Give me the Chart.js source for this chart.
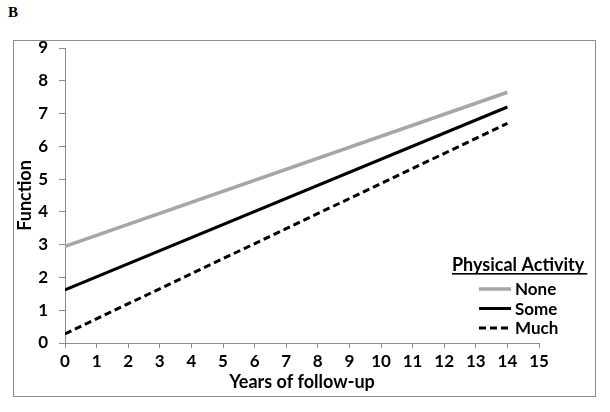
<!DOCTYPE html>
<html>
<head>
<meta charset="utf-8">
<script src="https://cdn.jsdelivr.net/npm/chart.js@4.4.0/dist/chart.umd.min.js"></script>
<style>
  body { margin: 0; background: #fff; }
  #wrap { position: relative; width: 610px; height: 412px; }
  #frame { position: absolute; left: 13px; top: 40px; width: 581px; height: 355px; border: 1px solid #8c8c8c; }
  #panel { position: absolute; left: 8px; top: 4px; font: bold 15px "Liberation Serif", serif; }
  canvas { position: absolute; left: 0; top: 0; }
</style>
</head>
<body>
<div id="wrap">
  <div id="frame"></div>
  <div id="panel">B</div>
  <canvas id="c" width="610" height="412"></canvas>
</div>
<script>
const years = [0, 14];
const noneVals = [2.95, 7.65];
const someVals = [1.62, 7.2];
const muchVals = [0.28, 6.7];
const legendTitle = "Physical Activity";
const font = "Lato, 'Open Sans', sans-serif";

function pts(vals) {
  return vals.map((v, i) => ({ x: years[i], y: v }));
}

// draws the small legend inside the plot, bottom right
const legendBox = {
  id: "legendBox",
  afterDraw(chart) {
    const ctx = chart.ctx;
    ctx.save();
    ctx.font = "bold 18px " + font;
    ctx.fillStyle = "#000";
    ctx.textBaseline = "alphabetic";
    const tx = 452, ty = 271;
    ctx.fillText(legendTitle, tx, ty);
    const w = ctx.measureText(legendTitle).width;
    ctx.fillRect(tx, ty + 2, w + 3, 1.6);
    ctx.font = "bold 17px " + font;
    ctx.textBaseline = "middle";
    chart.data.datasets.forEach((ds, i) => {
      const y = 289 + i * 19.5;
      ctx.beginPath();
      ctx.strokeStyle = ds.borderColor;
      ctx.lineWidth = ds.borderWidth;
      ctx.setLineDash(ds.borderDash || []);
      ctx.moveTo(479, y);
      ctx.lineTo(511, y);
      ctx.stroke();
      ctx.setLineDash([]);
      ctx.fillText(ds.label, 515, y + 1);
    });
    ctx.restore();
  }
};

new Chart(document.getElementById("c"), {
  type: "line",
  data: {
    datasets: [
      { label: "None", data: pts(noneVals), borderColor: "#a6a6a6", borderWidth: 3.5, pointRadius: 0 },
      { label: "Some", data: pts(someVals), borderColor: "#000", borderWidth: 3, pointRadius: 0 },
      { label: "Much", data: pts(muchVals), borderColor: "#000", borderWidth: 3, borderDash: [7, 4], pointRadius: 0 }
    ]
  },
  options: {
    responsive: false,
    animation: false,
    layout: { padding: { left: 14, top: 48, right: 71, bottom: 19 } },
    plugins: { legend: { display: false }, tooltip: { enabled: false } },
    scales: {
      x: {
        type: "linear",
        min: 0, max: 15,
        afterFit: (s) => { s.height = 50; },
        border: { color: "#8c8c8c", width: 1 },
        grid: { drawOnChartArea: false, drawTicks: true, tickLength: 5, color: "#8c8c8c" },
        ticks: { stepSize: 1, color: "#000", font: { family: font, size: 17, weight: "bold" }, padding: 3, maxRotation: 0 },
        title: { display: true, text: "Years of follow-up", color: "#000", font: { family: font, size: 18, weight: "bold" }, padding: 0 }
      },
      y: {
        min: 0, max: 9,
        afterFit: (s) => { s.width = 51; },
        border: { color: "#8c8c8c", width: 1 },
        grid: { drawOnChartArea: false, drawTicks: true, tickLength: 6, color: "#8c8c8c" },
        ticks: { stepSize: 1, color: "#000", font: { family: font, size: 17, weight: "bold" }, padding: 11 },
        title: { display: true, text: "Function", color: "#000", font: { family: font, size: 18, weight: "bold" }, padding: 0 }
      }
    }
  },
  plugins: [legendBox]
});
</script>
</body>
</html>
